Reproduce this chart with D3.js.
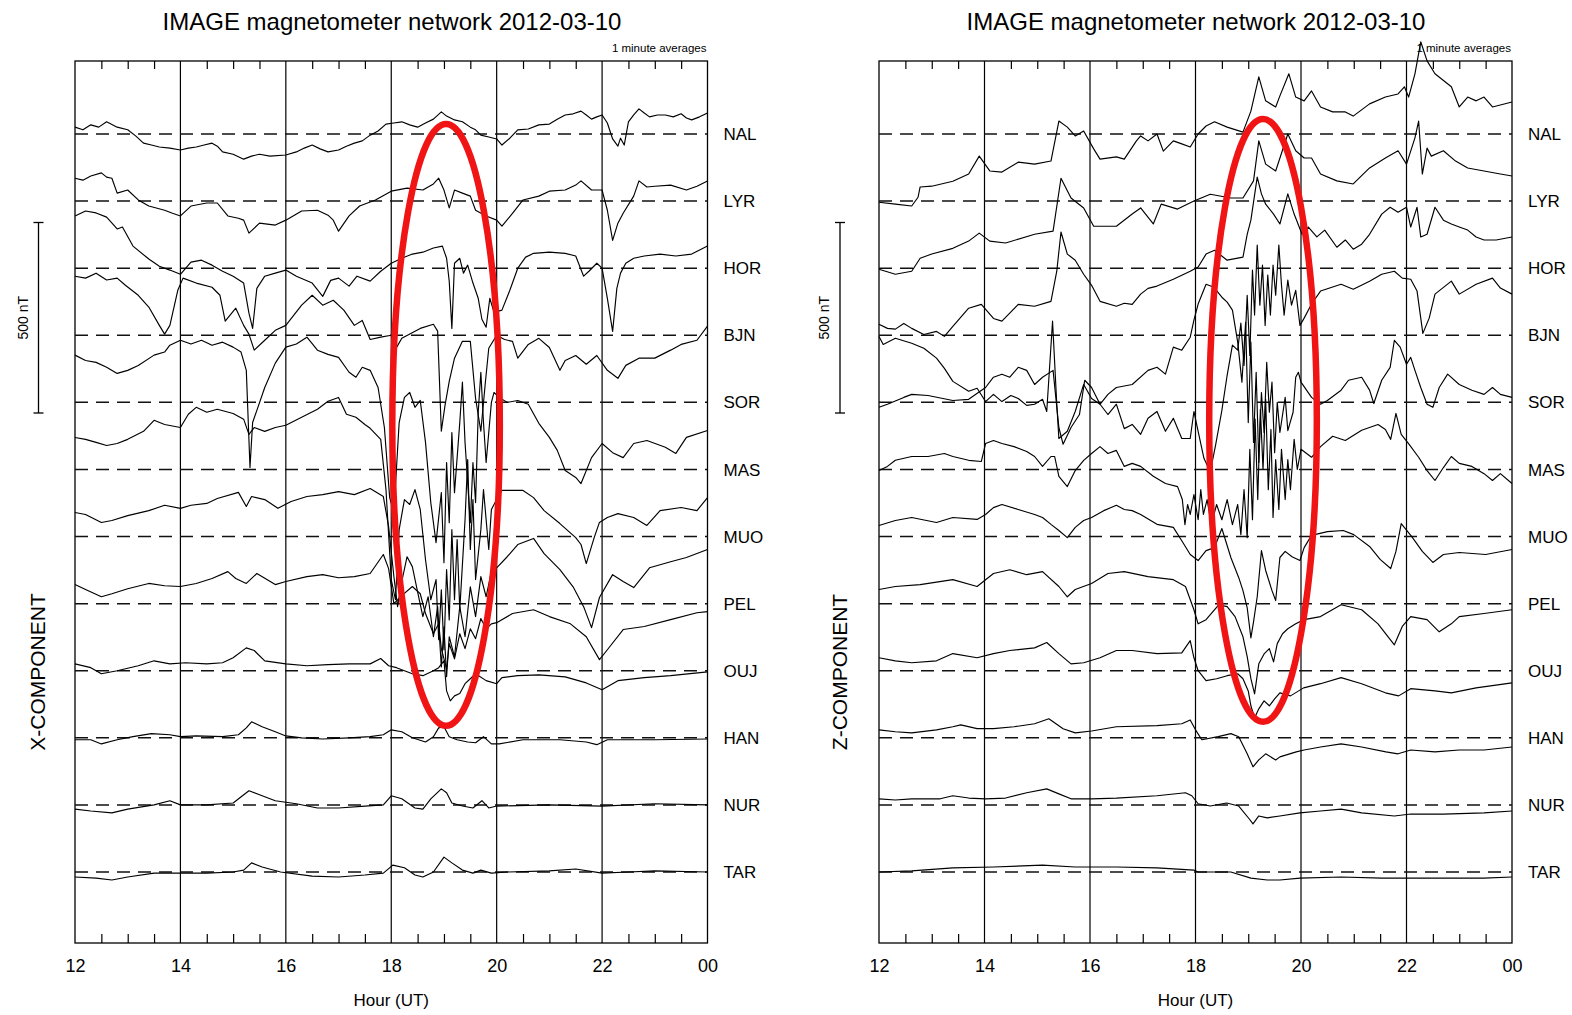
<!DOCTYPE html>
<html>
<head>
<meta charset="utf-8">
<script src="https://cdn.jsdelivr.net/npm/d3@7/dist/d3.min.js"></script>
<style>
html,body{margin:0;padding:0;background:#fff;}
svg{display:block;}
text{font-family:"Liberation Sans",Arial,Helvetica,sans-serif;fill:#000;}
</style>
</head>
<body>
<svg id="chart" width="1572" height="1015"></svg>
<script>
// ---------- categories / labels ----------
const stations = ["NAL","LYR","HOR","BJN","SOR","MAS","MUO","PEL","OUJ","HAN","NUR","TAR"];
const hourTicks = [12,14,16,18,20,22,24];
const hourLabels = ["12","14","16","18","20","22","00"];
const minorTicks = [12.5,13,13.5,14.5,15,15.5,16.5,17,17.5,18.5,19,19.5,20.5,21,21.5,22.5,23,23.5];
const titleText = "IMAGE magnetometer network 2012-03-10";
const noteText = "1 minute averages";
const axisTitle = "Hour (UT)";
const componentNames = ["X-COMPONENT","Z-COMPONENT"];
const scaleBarNT = 500;
const highlightX = [18.02, 20.06];
const highlightZ = [18.26, 20.30];

// ---------- X component, [hour, nT] ----------
const NAL_X = [[12,18],[12.15,11],[12.3,24],[12.45,18],[12.6,32],[12.8,18],[13,11],[13.15,-5],[13.3,-24],[13.45,-29],[13.6,-34],[13.8,-37],[14,-42],[14.15,-37],[14.3,-34],[14.45,-29],[14.6,-24],[14.7,-32],[14.8,-47],[15,-53],[15.2,-66],[15.35,-58],[15.5,-53],[15.7,-58],[16,-55],[16.2,-47],[16.35,-37],[16.5,-29],[16.65,-39],[16.8,-47],[17,-42],[17.15,-32],[17.3,-24],[17.45,-18],[17.6,-3],[17.75,8],[17.9,26],[18.05,29],[18.2,32],[18.35,24],[18.5,18],[18.65,29],[18.8,39],[18.95,58],[19.05,47],[19.2,37],[19.35,32],[19.5,18],[19.6,11],[19.7,-3],[19.85,-8],[20,-13],[20.1,-29],[20.25,-11],[20.4,11],[20.6,13],[20.8,24],[21,26],[21.15,39],[21.3,50],[21.45,53],[21.6,60],[21.7,50],[21.8,39],[21.9,45],[22,50],[22.1,29],[22.2,-13],[22.3,-32],[22.35,-11],[22.42,-29],[22.5,32],[22.6,50],[22.7,66],[22.8,55],[22.9,45],[23.05,50],[23.2,50],[23.35,45],[23.5,53],[23.6,42],[23.7,37],[23.85,45],[24,55]];
const LYR_X = [[12,60],[12.15,55],[12.3,66],[12.5,74],[12.6,63],[12.7,60],[12.8,21],[13,29],[13.2,3],[13.4,-13],[13.7,-24],[13.85,-32],[14,-39],[14.2,-13],[14.5,-5],[14.7,-5],[14.9,-39],[15.1,-45],[15.2,-50],[15.3,-84],[15.5,-58],[15.8,-63],[16,-50],[16.3,-26],[16.6,-24],[16.8,-37],[16.9,-50],[17,-79],[17.2,-39],[17.4,-13],[17.7,3],[18,26],[18.3,34],[18.6,29],[18.8,45],[18.9,60],[19,29],[19.1,-18],[19.2,29],[19.35,21],[19.5,13],[19.6,-24],[19.8,-39],[20,-50],[20.1,-66],[20.3,-32],[20.5,3],[20.8,13],[21,26],[21.3,29],[21.5,42],[21.6,53],[21.8,29],[22,29],[22.1,-24],[22.2,-103],[22.3,-58],[22.4,-32],[22.6,13],[22.7,53],[22.85,37],[23,39],[23.3,42],[23.6,29],[23.8,39],[24,53]];
const HOR_X = [[12,137],[12.2,150],[12.4,145],[12.6,134],[12.8,103],[12.9,108],[13.1,58],[13.4,24],[13.6,5],[13.8,-5],[14,-16],[14.2,16],[14.4,21],[14.6,8],[14.8,-8],[15,-21],[15.2,-39],[15.3,-118],[15.37,-158],[15.45,-53],[15.6,-21],[15.8,-13],[16,-5],[16.2,-21],[16.5,-39],[16.7,-74],[16.85,-32],[17,-26],[17.2,-47],[17.35,-21],[17.6,-34],[17.8,-8],[18,13],[18.2,26],[18.4,37],[18.6,42],[18.8,53],[18.97,58],[19.05,26],[19.1,-34],[19.15,-158],[19.2,13],[19.3,26],[19.37,-13],[19.45,8],[19.55,-39],[19.65,-79],[19.72,-134],[19.8,-155],[19.87,-79],[19.95,-116],[20.1,-110],[20.25,-58],[20.4,0],[20.55,29],[20.7,39],[21,42],[21.3,39],[21.5,32],[21.65,-21],[21.75,-8],[21.9,13],[22,0],[22.1,-79],[22.2,-166],[22.28,-53],[22.35,-13],[22.45,13],[22.6,26],[22.8,32],[23.1,37],[23.4,32],[23.7,37],[24,58]];
const BJN_X = [[12,155],[12.2,150],[12.4,163],[12.6,145],[12.8,150],[12.95,132],[13.2,105],[13.4,74],[13.6,26],[13.7,3],[13.8,26],[13.95,118],[14.05,150],[14.3,137],[14.6,126],[14.75,105],[14.85,37],[15.05,71],[15.2,26],[15.3,3],[15.4,-39],[15.6,-13],[15.8,13],[16,26],[16.3,79],[16.5,105],[16.7,79],[16.9,92],[17.1,66],[17.3,26],[17.45,39],[17.6,-11],[17.8,-5],[18,0],[18.08,-37],[18.2,-8],[18.55,18],[18.8,29],[18.88,11],[18.95,-252],[19.02,-184],[19.1,-121],[19.2,-60],[19.35,-16],[19.5,-16],[19.6,-166],[19.7,-252],[19.78,-132],[19.85,-34],[20,0],[20.15,-11],[20.3,-16],[20.4,-60],[20.6,-24],[20.8,-8],[21,-32],[21.2,-92],[21.3,-66],[21.5,-53],[21.7,-76],[21.9,-53],[22.1,-92],[22.3,-113],[22.45,-79],[22.7,-60],[23,-60],[23.3,-39],[23.5,-24],[23.8,-13],[24,24]];
const SOR_X = [[12,124],[12.2,110],[12.4,105],[12.6,92],[12.8,76],[13,84],[13.2,97],[13.5,124],[13.7,132],[13.8,150],[14,163],[14.2,153],[14.4,163],[14.6,150],[14.8,158],[15,145],[15.15,132],[15.25,84],[15.32,-171],[15.37,-53],[15.45,-21],[15.6,39],[15.8,103],[16,145],[16.2,153],[16.4,171],[16.6,137],[16.8,126],[17,118],[17.2,79],[17.33,66],[17.45,92],[17.6,84],[17.75,39],[17.87,-66],[17.97,-250],[18.05,-289],[18.15,-53],[18.25,13],[18.35,26],[18.45,-13],[18.55,5],[18.65,-105],[18.75,-263],[18.85,-368],[18.95,-237],[19,-421],[19.05,-158],[19.1,-316],[19.15,-79],[19.2,-237],[19.3,-53],[19.35,53],[19.4,-105],[19.5,-316],[19.55,-158],[19.6,-263],[19.65,-26],[19.7,79],[19.75,-53],[19.8,-158],[19.85,-79],[19.9,0],[19.95,26],[20.05,13],[20.2,0],[20.4,5],[20.6,-5],[20.8,-55],[21,-92],[21.15,-126],[21.3,-179],[21.5,-197],[21.6,-213],[21.8,-145],[22,-108],[22.2,-132],[22.4,-145],[22.6,-108],[22.85,-100],[23.2,-118],[23.4,-134],[23.6,-92],[24,-74]];
const MAS_X = [[12,84],[12.2,79],[12.4,71],[12.6,63],[12.8,68],[13,79],[13.3,100],[13.5,129],[13.7,118],[14,110],[14.15,145],[14.3,163],[14.5,150],[14.7,158],[15,147],[15.2,132],[15.3,92],[15.4,110],[15.6,100],[15.8,110],[16,116],[16.3,137],[16.6,158],[16.8,179],[17,189],[17.15,145],[17.33,137],[17.5,118],[17.6,108],[17.8,79],[17.9,-53],[18,-289],[18.08,-342],[18.15,-158],[18.25,-79],[18.35,-92],[18.45,-53],[18.55,-105],[18.65,-237],[18.75,-342],[18.85,-289],[18.9,-447],[18.95,-316],[19,-473],[19.05,-263],[19.1,-395],[19.15,-158],[19.2,-342],[19.25,-184],[19.3,-368],[19.4,-132],[19.45,26],[19.5,-210],[19.55,-79],[19.6,-289],[19.7,-158],[19.75,-53],[19.85,-210],[19.9,-105],[20,-79],[20.1,-55],[20.5,-55],[20.7,-74],[20.9,-108],[21.2,-142],[21.5,-179],[21.6,-197],[21.7,-247],[21.85,-179],[21.95,-139],[22.1,-126],[22.3,-116],[22.6,-126],[22.85,-147],[23.1,-108],[23.5,-100],[23.8,-108],[24,-74]];
const MUO_X = [[12,63],[12.2,58],[12.5,37],[12.7,42],[13,55],[13.4,68],[13.7,82],[14,74],[14.2,82],[14.5,87],[14.7,100],[15.1,116],[15.25,79],[15.35,105],[15.6,97],[15.85,74],[16.1,92],[16.4,105],[16.7,110],[17,118],[17.3,110],[17.6,126],[17.85,105],[17.95,26],[18.05,-105],[18.12,-184],[18.2,-118],[18.3,-53],[18.4,-79],[18.5,-145],[18.6,-210],[18.7,-158],[18.8,-263],[18.88,-184],[18.95,-342],[19,-237],[19.05,-368],[19.1,-263],[19.2,-316],[19.3,-184],[19.4,-263],[19.5,-132],[19.6,-210],[19.7,-105],[19.8,-158],[19.9,-92],[20,-82],[20.2,-53],[20.4,-21],[20.7,-5],[20.9,-45],[21.2,-87],[21.45,-132],[21.65,-184],[21.8,-239],[21.95,-160],[22.2,-100],[22.4,-118],[22.6,-134],[22.9,-82],[23.3,-66],[23.6,-55],[24,-34]];
const PEL_X = [[12,50],[12.2,37],[12.5,18],[12.7,26],[13,39],[13.4,53],[13.7,47],[14,45],[14.3,53],[14.6,66],[14.9,84],[15.05,66],[15.25,53],[15.45,79],[15.8,50],[16,58],[16.4,71],[16.7,76],[17,68],[17.3,71],[17.6,79],[17.85,129],[17.95,92],[18.05,0],[18.2,21],[18.4,45],[18.55,26],[18.65,-26],[18.8,-79],[18.9,-53],[18.95,-118],[19.05,-171],[19.1,-105],[19.2,-145],[19.3,-79],[19.4,-118],[19.5,-66],[19.6,-92],[19.7,-39],[19.8,-66],[19.9,-53],[20,-50],[20.3,-26],[20.7,-16],[21,-34],[21.4,-53],[21.7,-87],[21.95,-147],[22.1,-121],[22.4,-68],[22.8,-60],[23.3,-42],[23.8,-24],[24,-21]];
const OUJ_X = [[12,18],[12.3,8],[12.5,-8],[12.8,0],[13.2,13],[13.5,26],[13.8,18],[14.1,21],[14.5,18],[14.8,21],[15,34],[15.25,60],[15.4,53],[15.6,26],[16,18],[16.4,13],[16.8,16],[17.2,18],[17.6,18],[17.8,32],[17.95,13],[18.1,8],[18.4,-8],[18.6,-13],[18.8,0],[18.9,8],[19,26],[19.05,-53],[19.12,-79],[19.2,-66],[19.3,-60],[19.4,-34],[19.5,-21],[19.6,-8],[19.8,-26],[20,-34],[20.1,-18],[20.4,-13],[20.8,-11],[21.3,-16],[21.7,-32],[22,-50],[22.3,-26],[22.8,-18],[23.3,-13],[24,-3]];
const HAN_X = [[12,-5],[12.3,-5],[12.5,-16],[12.8,-5],[13.1,3],[13.45,11],[13.8,8],[14,3],[14.3,5],[14.8,3],[15.1,8],[15.25,26],[15.35,42],[15.55,29],[15.8,16],[16,5],[16.3,0],[16.7,-3],[17.2,0],[17.6,3],[17.85,8],[18,21],[18.2,16],[18.4,0],[18.65,-11],[18.8,3],[18.9,26],[19,29],[19.1,3],[19.25,-5],[19.45,-11],[19.6,-13],[19.75,3],[19.9,-16],[20.05,-16],[20.5,-5],[21.2,-5],[21.7,-11],[21.9,-18],[22.1,-5],[23,-5],[24,-3]];
const NUR_X = [[12,-11],[12.3,-16],[12.7,-21],[13,-11],[13.5,0],[13.8,11],[14,0],[14.5,0],[15,5],[15.3,37],[15.55,24],[15.8,11],[16.2,3],[16.6,-8],[17,-8],[17.5,-3],[17.85,0],[18,24],[18.2,16],[18.45,-8],[18.6,-11],[18.75,16],[18.95,42],[19.05,32],[19.15,5],[19.35,-3],[19.55,-8],[19.72,11],[19.85,-8],[20,-3],[21,0],[22,-3],[23,3],[24,0]];
const TAR_X = [[12,-13],[12.4,-16],[12.7,-21],[13,-13],[13.5,-3],[14,-3],[14.5,-3],[15,0],[15.2,5],[15.35,24],[15.55,13],[15.9,0],[16.5,-11],[17,-13],[17.5,-8],[17.85,-3],[18.03,18],[18.25,11],[18.45,-8],[18.6,-13],[18.8,0],[19,39],[19.15,24],[19.35,5],[19.55,-3],[19.7,5],[19.9,-3],[20.2,0],[21,3],[21.5,8],[22,-3],[22.5,0],[23,3],[24,0]];

// ---------- Z component, [hour, nT] ----------
const NAL_Z = [[12,-179],[12.31,-184],[12.62,-189],[12.74,-166],[12.78,-139],[13,-137],[13.4,-124],[13.7,-105],[13.9,-58],[14.1,-97],[14.33,-100],[14.64,-74],[14.95,-79],[15.26,-71],[15.41,34],[15.57,18],[15.72,-5],[15.88,8],[16.07,-39],[16.19,-66],[16.5,-60],[16.65,-66],[16.88,-18],[16.96,-5],[17.1,-18],[17.27,0],[17.39,-45],[17.58,-18],[17.74,-26],[17.9,-34],[18.05,0],[18.2,21],[18.36,32],[18.6,18],[18.9,5],[19.05,60],[19.2,150],[19.33,87],[19.52,71],[19.6,100],[19.77,158],[19.9,97],[20.06,87],[20.2,113],[20.37,71],[20.6,58],[20.84,58],[20.99,47],[21.3,79],[21.6,97],[21.84,105],[21.96,124],[22.04,97],[22.16,158],[22.27,242],[22.39,192],[22.54,158],[22.85,124],[23,71],[23.16,97],[23.32,87],[23.47,97],[23.63,71],[24,84]];
const LYR_Z = [[12,-179],[12.31,-192],[12.62,-184],[12.78,-150],[13,-139],[13.4,-124],[13.7,-105],[13.9,-84],[14.1,-105],[14.4,-110],[14.95,-87],[15.3,-79],[15.45,60],[15.64,8],[15.88,-18],[16.07,-66],[16.5,-66],[16.8,-34],[16.96,-18],[17.2,-60],[17.35,-8],[17.66,-21],[17.97,0],[18.28,18],[18.67,8],[18.9,8],[19.1,53],[19.2,158],[19.33,97],[19.52,79],[19.75,176],[19.9,132],[20.06,113],[20.2,113],[20.37,71],[20.68,53],[20.99,45],[21.3,87],[21.6,113],[21.84,132],[22,97],[22.16,166],[22.23,210],[22.3,71],[22.39,139],[22.47,118],[22.7,132],[22.93,105],[23.16,87],[23.47,79],[23.78,71],[24,66]];
const HOR_Z = [[12,-147],[12.16,-158],[12.31,-160],[12.47,-145],[12.62,-158],[12.85,-174],[13.09,-166],[13.24,-179],[13.4,-153],[13.7,-105],[13.94,-95],[14.17,-132],[14.33,-139],[14.64,-95],[14.95,-100],[15.26,-87],[15.37,-8],[15.45,95],[15.57,37],[15.72,21],[15.88,-16],[16.03,-45],[16.19,-87],[16.5,-100],[16.65,-92],[16.8,-95],[16.96,-68],[17.1,-53],[17.27,-47],[17.58,-29],[17.9,-8],[18.05,3],[18.2,37],[18.36,47],[18.6,21],[18.9,29],[18.98,89],[19.05,126],[19.17,239],[19.25,195],[19.33,168],[19.48,142],[19.6,116],[19.75,195],[19.87,142],[20.02,89],[20.14,108],[20.3,82],[20.45,100],[20.68,55],[20.84,74],[20.99,50],[21.15,63],[21.3,89],[21.53,142],[21.69,160],[21.84,147],[22,160],[22.08,108],[22.2,160],[22.27,82],[22.39,89],[22.54,160],[22.7,126],[22.85,116],[23,108],[23.16,100],[23.32,82],[23.47,74],[23.7,74],[24,82]];
const BJN_Z = [[12,-3],[12.08,-24],[12.31,-8],[12.62,-21],[12.85,-34],[13.09,-60],[13.24,-87],[13.4,-121],[13.7,-147],[13.86,-139],[14.02,-174],[14.17,-155],[14.33,-174],[14.5,-158],[14.64,-166],[14.8,-184],[14.95,-181],[15.1,-168],[15.18,-200],[15.29,37],[15.37,-181],[15.41,-271],[15.57,-252],[15.72,-200],[15.88,-129],[16.03,-166],[16.19,-181],[16.34,-208],[16.5,-181],[16.65,-245],[16.8,-234],[16.96,-260],[17.1,-218],[17.27,-200],[17.43,-252],[17.58,-218],[17.74,-271],[17.9,-271],[17.97,-200],[18.05,-252],[18.16,-323],[18.28,-358],[18.38,-289],[18.5,-197],[18.6,-105],[18.7,-26],[18.8,-39],[18.86,32],[18.92,-79],[18.98,105],[19.03,-53],[19.08,171],[19.12,53],[19.17,237],[19.22,79],[19.27,184],[19.32,26],[19.37,158],[19.42,53],[19.47,184],[19.52,105],[19.58,237],[19.63,132],[19.68,53],[19.75,145],[19.82,79],[19.9,118],[19.98,26],[20.06,45],[20.2,82],[20.37,116],[20.76,134],[20.99,121],[21.3,142],[21.53,160],[21.77,168],[21.92,150],[22.08,147],[22.2,116],[22.31,5],[22.43,45],[22.54,108],[22.85,142],[23,108],[23.32,134],[23.63,150],[23.78,124],[24,108]];
const SOR_Z = [[12,-13],[12.16,-5],[12.47,13],[12.62,21],[12.93,18],[13.4,5],[13.7,8],[14.02,39],[14.17,66],[14.33,74],[14.48,66],[14.64,92],[14.8,84],[14.95,47],[15.1,66],[15.3,84],[15.41,-66],[15.49,-110],[15.64,-66],[15.8,-32],[15.9,58],[16.03,39],[16.19,-5],[16.34,21],[16.5,39],[16.8,47],[17.1,84],[17.27,92],[17.43,74],[17.58,145],[17.74,137],[17.9,171],[17.97,216],[18.05,258],[18.2,310],[18.35,302],[18.5,276],[18.6,263],[18.7,242],[18.8,158],[18.88,53],[18.95,210],[19,-53],[19.05,158],[19.1,-105],[19.15,79],[19.2,-158],[19.25,26],[19.3,-79],[19.35,105],[19.4,-26],[19.45,53],[19.5,-132],[19.55,0],[19.6,-79],[19.7,13],[19.75,-74],[19.85,-26],[19.9,66],[19.95,79],[20,53],[20.2,13],[20.37,-5],[20.5,5],[20.76,32],[20.9,58],[21.15,66],[21.3,32],[21.38,-3],[21.53,58],[21.69,92],[21.77,163],[21.88,145],[22,100],[22.08,118],[22.16,84],[22.27,39],[22.39,-5],[22.5,-13],[22.62,39],[22.78,74],[23,47],[23.24,32],[23.47,21],[23.63,39],[23.78,21],[24,13]];
const MAS_Z = [[12,-3],[12.16,8],[12.31,24],[12.62,34],[12.93,34],[13.24,42],[13.4,34],[13.7,24],[13.94,21],[14.02,68],[14.17,76],[14.33,68],[14.56,60],[14.8,47],[14.95,34],[15.1,8],[15.26,34],[15.33,34],[15.41,-18],[15.57,-45],[15.72,-3],[15.88,24],[16.03,42],[16.19,60],[16.34,42],[16.5,50],[16.65,8],[16.8,16],[16.96,8],[17.2,-18],[17.43,-37],[17.66,-45],[17.75,-79],[17.8,-145],[17.85,-92],[17.9,-118],[17.97,-66],[18.05,-132],[18.1,-53],[18.15,-118],[18.22,-79],[18.3,-145],[18.4,-92],[18.5,-132],[18.6,-79],[18.7,-145],[18.8,-92],[18.86,-171],[18.92,-53],[18.98,-179],[19.03,53],[19.08,-132],[19.13,132],[19.18,-79],[19.23,158],[19.28,0],[19.33,184],[19.38,-53],[19.43,105],[19.47,-126],[19.52,26],[19.58,-105],[19.63,53],[19.7,-79],[19.75,26],[19.8,-53],[19.87,79],[19.93,0],[20,53],[20.2,32],[20.37,60],[20.6,87],[20.84,76],[21.15,103],[21.46,118],[21.6,105],[21.7,79],[21.8,147],[21.9,92],[22.05,66],[22.23,32],[22.39,-3],[22.54,-29],[22.7,5],[22.85,34],[23,16],[23.24,8],[23.47,-11],[23.63,-29],[23.78,-11],[24,-37]];
const MUO_Z = [[12,29],[12.31,42],[12.62,50],[13.09,37],[13.4,50],[13.86,45],[14.02,58],[14.17,76],[14.33,84],[14.64,71],[14.95,58],[15.1,50],[15.26,32],[15.41,16],[15.57,-3],[15.72,24],[15.88,42],[16.03,50],[16.26,68],[16.5,82],[16.65,71],[16.8,68],[16.96,58],[17.27,32],[17.58,24],[17.74,-11],[17.9,-47],[18.05,-63],[18.2,-37],[18.36,-29],[18.5,21],[18.67,-55],[18.82,-108],[18.9,-142],[18.98,-187],[19.05,-266],[19.1,-224],[19.17,-158],[19.25,-37],[19.33,-89],[19.45,-142],[19.52,-168],[19.6,-55],[19.7,-39],[19.83,-53],[19.98,-63],[20.06,-29],[20.2,3],[20.5,13],[20.8,16],[21,5],[21.3,-26],[21.5,-60],[21.7,-84],[21.8,-39],[21.9,34],[22.1,0],[22.3,-39],[22.5,-68],[22.7,-47],[23,-42],[23.5,-47],[24,-34]];
const PEL_Z = [[12,37],[12.31,45],[12.78,50],[13.4,63],[13.86,45],[14.17,79],[14.48,89],[14.8,76],[15.1,84],[15.41,45],[15.57,18],[15.72,37],[16.03,53],[16.34,79],[16.65,84],[17.1,71],[17.58,63],[17.81,45],[17.97,-16],[18.05,-53],[18.2,-42],[18.44,-3],[18.6,-8],[18.75,-34],[18.9,-87],[18.98,-139],[19.05,-197],[19.12,-237],[19.2,-158],[19.3,-132],[19.4,-118],[19.48,-153],[19.55,-105],[19.65,-79],[19.75,-66],[19.9,-53],[20.06,-42],[20.37,-34],[20.76,-3],[21.15,-16],[21.46,-53],[21.77,-108],[21.92,-60],[22.08,-34],[22.39,-42],[22.62,-74],[22.85,-53],[23,-34],[23.47,-26],[24,-16]];
const OUJ_Z = [[12,34],[12.31,26],[12.62,21],[13.09,26],[13.4,45],[13.86,34],[14.17,45],[14.48,53],[14.95,60],[15.18,74],[15.41,45],[15.64,18],[15.88,21],[16.19,34],[16.5,53],[16.8,53],[17.27,45],[17.74,47],[17.9,79],[17.97,34],[18.05,0],[18.2,-26],[18.4,-21],[18.6,-13],[18.8,-8],[18.9,-21],[19,-53],[19.05,-92],[19.12,-124],[19.2,-100],[19.3,-79],[19.4,-92],[19.5,-74],[19.6,-58],[19.8,-66],[20.05,-45],[20.37,-34],[20.76,-18],[21.15,-34],[21.6,-58],[21.85,-66],[22.08,-47],[22.54,-53],[22.85,-58],[23.32,-45],[24,-32]];
const HAN_Z = [[12,21],[12.31,16],[12.62,13],[13.09,21],[13.4,29],[13.55,34],[13.86,24],[14.17,24],[14.56,29],[14.95,37],[15.22,50],[15.49,24],[15.72,13],[16.03,18],[16.5,29],[17.27,32],[17.74,37],[17.9,47],[18,21],[18.12,-5],[18.43,3],[18.67,11],[18.82,3],[18.98,-42],[19.09,-76],[19.2,-58],[19.33,-42],[19.52,-58],[19.6,-50],[19.91,-37],[20.06,-32],[20.37,-24],[20.76,-16],[21.15,-24],[21.61,-37],[21.84,-42],[22.08,-32],[22.54,-37],[23,-32],[23.47,-32],[24,-24]];
const NUR_Z = [[12,16],[12.31,13],[12.62,16],[13.16,16],[13.4,24],[13.7,18],[14.02,16],[14.4,18],[14.8,32],[15.18,42],[15.41,29],[15.64,16],[16.03,16],[16.5,18],[17.27,24],[17.81,32],[17.93,24],[18.05,3],[18.28,-3],[18.59,5],[18.82,-3],[19.02,-37],[19.09,-50],[19.2,-29],[19.36,-34],[19.6,-29],[19.98,-21],[20.37,-16],[20.76,-11],[21.15,-21],[21.77,-29],[22.08,-24],[22.7,-24],[23.47,-21],[24,-16]];
const TAR_Z = [[12,0],[12.62,3],[13.4,11],[14.17,13],[15.1,18],[15.72,13],[16.5,13],[17.27,11],[17.97,5],[18.05,0],[18.67,0],[19.05,-16],[19.36,-21],[19.6,-21],[19.98,-16],[20.76,-13],[21.53,-16],[21.92,-16],[22.7,-16],[23.47,-16],[24,-13]];

const seriesX = [NAL_X,LYR_X,HOR_X,BJN_X,SOR_X,MAS_X,MUO_X,PEL_X,OUJ_X,HAN_X,NUR_X,TAR_X];
const seriesZ = [NAL_Z,LYR_Z,HOR_Z,BJN_Z,SOR_Z,MAS_Z,MUO_Z,PEL_Z,OUJ_Z,HAN_Z,NUR_Z,TAR_Z];

// ---------- drawing ----------
const svg = d3.select("#chart");
const TOP = 61, BOTTOM = 943;
const panels = [
  {x0:75,  x1:707.5, series:seriesX, comp:componentNames[0], barX:38.5, compX:37, ring:highlightX, ringTop:-10, ringBot:-12, titleX:392},
  {x0:879, x1:1512,  series:seriesZ, comp:componentNames[1], barX:840, compX:839, ring:highlightZ, ringTop:-15, ringBot:-16, titleX:1196}
];

panels.forEach(p => {
  const g = svg.append("g");
  const x = d3.scaleLinear().domain([12,24]).range([p.x0,p.x1]);
  const yBase = d3.scalePoint().domain(stations).range([134,872]);
  const yOff = d3.scaleLinear().domain([0,scaleBarNT]).range([0,-190.5]);

  // title and note
  g.append("text").attr("x",p.titleX).attr("y",30).attr("text-anchor","middle")
    .style("font-size","24px").text(titleText);
  g.append("text").attr("x",p.x1-1).attr("y",52).attr("text-anchor","end")
    .style("font-size","11.5px").text(noteText);

  // frame
  g.append("rect").attr("x",p.x0).attr("y",TOP).attr("width",p.x1-p.x0).attr("height",BOTTOM-TOP)
    .attr("fill","none").attr("stroke","#000").attr("stroke-width",1.3);

  // vertical hour lines
  g.selectAll(".vl").data(hourTicks.slice(1,-1)).enter().append("line")
    .attr("x1",d=>x(d)).attr("x2",d=>x(d)).attr("y1",TOP).attr("y2",BOTTOM)
    .attr("stroke","#000").attr("stroke-width",1.2);

  // minor ticks (inward, top and bottom)
  const axTop = d3.axisBottom(x).tickValues(minorTicks).tickSize(8).tickFormat("");
  const gt = g.append("g").attr("transform",`translate(0,${TOP})`).call(axTop);
  const axBot = d3.axisTop(x).tickValues(minorTicks).tickSize(9).tickFormat("");
  const gb = g.append("g").attr("transform",`translate(0,${BOTTOM})`).call(axBot);
  [gt,gb].forEach(a=>{a.select(".domain").remove(); a.selectAll("line").attr("stroke","#000").attr("stroke-width",1.2);});

  // hour labels
  const axLab = d3.axisBottom(x).tickValues(hourTicks).tickSize(0).tickFormat((d,i)=>hourLabels[i]);
  const gl = g.append("g").attr("transform",`translate(0,${BOTTOM})`).call(axLab);
  gl.select(".domain").remove();
  gl.selectAll("text").attr("y",29).attr("dy",0).style("font-size","18px")
    .style("font-family",'"Liberation Sans",Arial,sans-serif').attr("fill","#000");
  g.append("text").attr("x",(p.x0+p.x1)/2).attr("y",1006).attr("text-anchor","middle")
    .style("font-size","17px").text(axisTitle);

  // dashed baselines
  g.selectAll(".bl").data(stations).enter().append("line")
    .attr("x1",p.x0).attr("x2",p.x1).attr("y1",d=>yBase(d)).attr("y2",d=>yBase(d))
    .attr("stroke","#111").attr("stroke-width",1.5).attr("stroke-dasharray","13,8");

  // traces
  stations.forEach((st,i) => {
    const line = d3.line().x(d=>x(d[0])).y(d=>yBase(st)+yOff(d[1]));
    g.append("path").datum(p.series[i]).attr("d",line)
      .attr("fill","none").attr("stroke","#000").attr("stroke-width",1.15).attr("stroke-linejoin","round");
  });

  // station labels
  g.selectAll(".sl").data(stations).enter().append("text")
    .attr("x",p.x1+16).attr("y",d=>yBase(d)).attr("dy","0.36em")
    .style("font-size","17px").text(d=>d);

  // scale bar
  const by0 = 222.5, by1 = by0 - yOff(scaleBarNT);
  g.append("line").attr("x1",p.barX).attr("x2",p.barX).attr("y1",by0).attr("y2",by1).attr("stroke","#000").attr("stroke-width",1.3);
  [by0,by1].forEach(yy=>g.append("line").attr("x1",p.barX-5).attr("x2",p.barX+5).attr("y1",yy).attr("y2",yy).attr("stroke","#000").attr("stroke-width",1.3));
  g.append("text").attr("transform",`translate(${p.barX-16},${(by0+by1)/2}) rotate(-90)`)
    .attr("text-anchor","middle").attr("dy","0.36em").style("font-size","14px").text(scaleBarNT+" nT");

  // component label
  g.append("text").attr("transform",`translate(${p.compX},672) rotate(-90)`)
    .attr("text-anchor","middle").attr("dy","0.36em").style("font-size","21px").text(p.comp);

  // red highlight ring
  const rx0 = x(p.ring[0]), rx1 = x(p.ring[1]);
  const ry0 = yBase("NAL")+p.ringTop, ry1 = yBase("HAN")+p.ringBot;
  g.append("ellipse").attr("cx",(rx0+rx1)/2).attr("cy",(ry0+ry1)/2)
    .attr("rx",(rx1-rx0)/2).attr("ry",(ry1-ry0)/2)
    .attr("fill","none").attr("stroke","#f01414").attr("stroke-width",6.5);
});
</script>
</body>
</html>
